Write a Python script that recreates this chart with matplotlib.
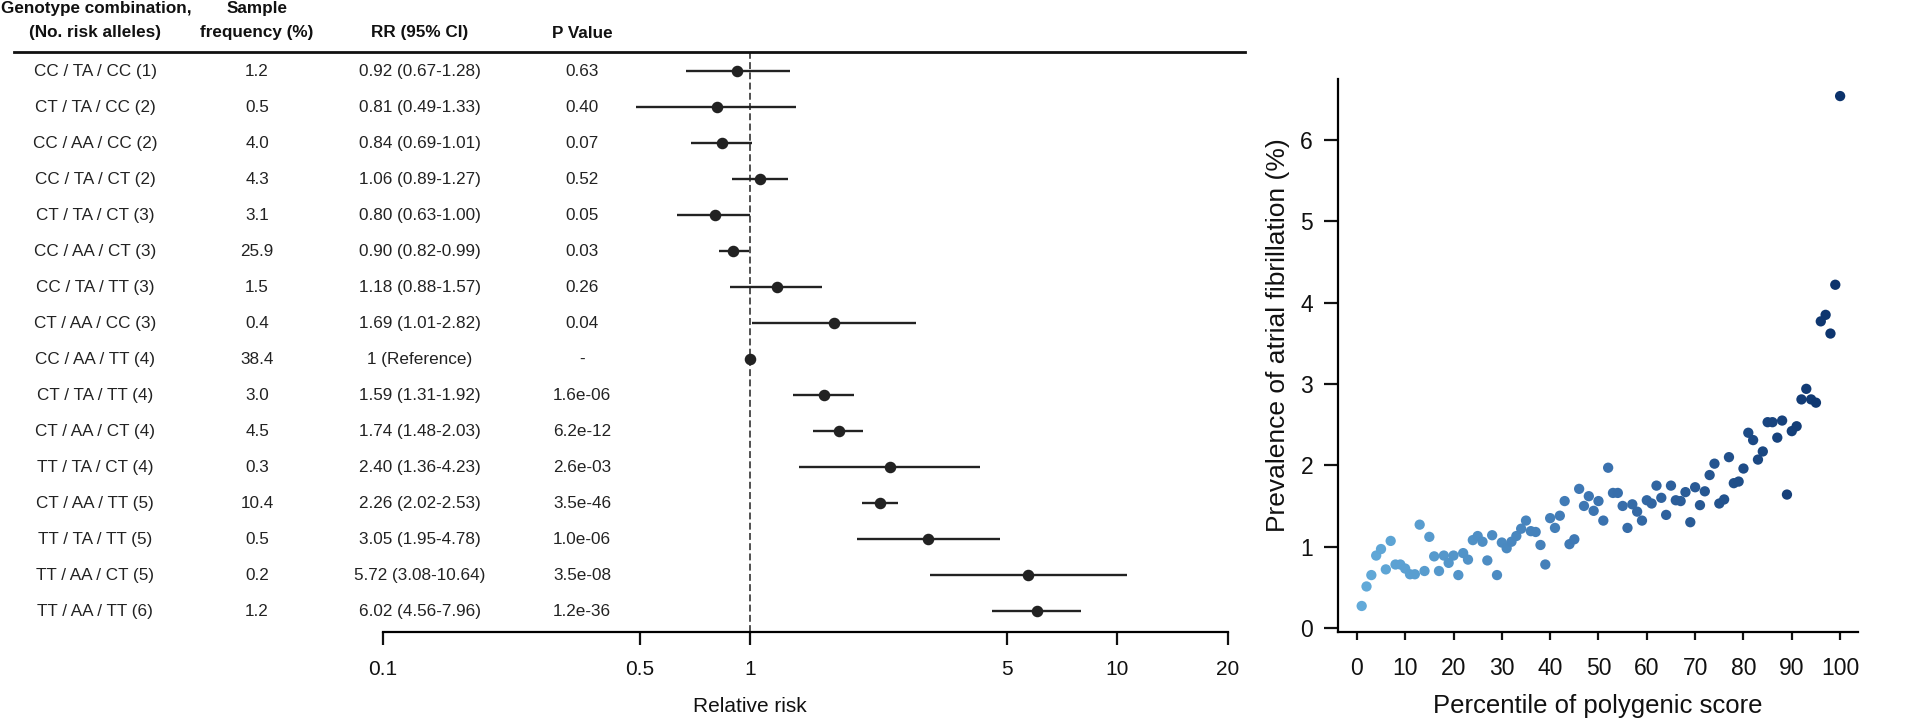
import numpy as np
import matplotlib
matplotlib.use("Agg")
import matplotlib.pyplot as plt
from matplotlib.colors import LinearSegmentedColormap
from matplotlib.transforms import blended_transform_factory

plt.rcParams['font.family'] = ['Liberation Sans', 'DejaVu Sans']

# ─── Data: genotype-combination forest plot ──────────────────────────────────
genotypes = ["CC / TA / CC (1)", "CT / TA / CC (2)", "CC / AA / CC (2)", "CC / TA / CT (2)",
             "CT / TA / CT (3)", "CC / AA / CT (3)", "CC / TA / TT (3)", "CT / AA / CC (3)",
             "CC / AA / TT (4)", "CT / TA / TT (4)", "CT / AA / CT (4)", "TT / TA / CT (4)",
             "CT / AA / TT (5)", "TT / TA / TT (5)", "TT / AA / CT (5)", "TT / AA / TT (6)"]
freq = ["1.2", "0.5", "4.0", "4.3", "3.1", "25.9", "1.5", "0.4",
        "38.4", "3.0", "4.5", "0.3", "10.4", "0.5", "0.2", "1.2"]
rr = [0.92, 0.81, 0.84, 1.06, 0.80, 0.90, 1.18, 1.69, 1.0, 1.59, 1.74, 2.40, 2.26, 3.05, 5.72, 6.02]
rr_lo = [0.67, 0.49, 0.69, 0.89, 0.63, 0.82, 0.88, 1.01, np.nan, 1.31, 1.48, 1.36, 2.02, 1.95, 3.08, 4.56]
rr_hi = [1.28, 1.33, 1.01, 1.27, 1.00, 0.99, 1.57, 2.82, np.nan, 1.92, 2.03, 4.23, 2.53, 4.78, 10.64, 7.96]
pvals = ["0.63", "0.40", "0.07", "0.52", "0.05", "0.03", "0.26", "0.04",
         "-", "1.6e-06", "6.2e-12", "2.6e-03", "3.5e-46", "1.0e-06", "3.5e-08", "1.2e-36"]
rr_ticks = [0.1, 0.5, 1, 5, 10, 20]
rr_ticklabels = ["0.1", "0.5", "1", "5", "10", "20"]

# ─── Data: prevalence by percentile of polygenic score ───────────────────────
percentile = np.arange(1, 101)
prevalence = [0.27, 0.51, 0.65, 0.89, 0.97, 0.72, 1.07, 0.78, 0.78, 0.73,
              0.66, 0.66, 1.27, 0.70, 1.12, 0.88, 0.70, 0.89, 0.80, 0.89,
              0.65, 0.92, 0.84, 1.08, 1.13, 1.06, 0.83, 1.14, 0.65, 1.05,
              0.98, 1.06, 1.13, 1.22, 1.32, 1.19, 1.18, 1.02, 0.78, 1.35,
              1.23, 1.38, 1.56, 1.03, 1.09, 1.71, 1.50, 1.62, 1.44, 1.56,
              1.32, 1.97, 1.66, 1.66, 1.50, 1.23, 1.52, 1.43, 1.32, 1.57,
              1.53, 1.75, 1.60, 1.39, 1.75, 1.57, 1.56, 1.67, 1.30, 1.73,
              1.51, 1.68, 1.88, 2.02, 1.53, 1.58, 2.10, 1.78, 1.80, 1.96,
              2.40, 2.31, 2.07, 2.17, 2.53, 2.53, 2.34, 2.55, 1.64, 2.42,
              2.48, 2.81, 2.94, 2.81, 2.77, 3.77, 3.85, 3.62, 4.22, 6.54]

W, H = 1920, 721
fig = plt.figure(figsize=(W / 100, H / 100), dpi=100)

def fx(px):   # figure fraction from pixel x
    return px / W

def fy(py):   # figure fraction from pixel y (top origin)
    return 1 - py / H

# ─── Forest plot ─────────────────────────────────────────────────────────────
ax = fig.add_axes([fx(383), fy(632), fx(1228) - fx(383), fy(52) - fy(632)])
n = len(genotypes)
rows = np.arange(n)
ax.set_xscale("log")
ax.set_xlim(0.1, 20)
ax.set_ylim(15.58, -0.53)

ink = "#222222"
ax.hlines(rows, rr_lo, rr_hi, color=ink, lw=1.7)
ax.plot(rr, rows, "o", color=ink, ms=7.3, zorder=3)
ax.axvline(1, color=ink, lw=1.1, ls=(0, (4.5, 2.2)), zorder=1)

for s in ["top", "left", "right"]:
    ax.spines[s].set_visible(False)
ax.spines["bottom"].set_linewidth(1.6)
ax.set_yticks([])
ax.set_xticks(rr_ticks)
ax.set_xticklabels(rr_ticklabels)
ax.xaxis.set_minor_locator(matplotlib.ticker.NullLocator())
ax.tick_params(axis="x", length=9, width=1.6, pad=11, labelsize=15, colors="#111111")
ax.text(1, fy(707), "Relative risk", transform=blended_transform_factory(ax.transData, fig.transFigure),
        ha="center", va="center", fontsize=15, color="#111111")

tr = blended_transform_factory(fig.transFigure, ax.transData)
rr_text = [f"{r:.2f} ({l:.2f}-{h:.2f})" if not np.isnan(l) else "1 (Reference)"
           for r, l, h in zip(rr, rr_lo, rr_hi)]
for i in range(n):
    ax.text(fx(95), i, genotypes[i], transform=tr, ha="center", va="center", fontsize=12.3, color=ink)
    ax.text(fx(257), i, freq[i], transform=tr, ha="center", va="center", fontsize=12.3, color=ink)
    ax.text(fx(420), i, rr_text[i], transform=tr, ha="center", va="center", fontsize=12.3, color=ink)
    ax.text(fx(582), i, pvals[i], transform=tr, ha="center", va="center", fontsize=12.3, color=ink)

hdr = dict(transform=fig.transFigure, ha="center", va="center", fontsize=12.3, fontweight="bold", color="#111111")
fig.text(fx(96), fy(8), "Genotype combination,", **hdr)
fig.text(fx(95), fy(33), "(No. risk alleles)", **hdr)
fig.text(fx(257), fy(8), "Sample", **hdr)
fig.text(fx(257), fy(33), "frequency (%)", **hdr)
fig.text(fx(420), fy(33), "RR (95% CI)", **hdr)
fig.text(fx(582), fy(33), "P Value", **hdr)
fig.add_artist(plt.Line2D([fx(14), fx(1245)], [fy(52), fy(52)], color="#111111", lw=2.0))

# ─── Scatter of prevalence vs. percentile ────────────────────────────────────
ax2 = fig.add_axes([fx(1338), fy(632), fx(1858) - fx(1338), fy(79) - fy(632)])
cmap = LinearSegmentedColormap.from_list("pgs", ["#62aad9", "#3b73b0", "#0b326b"])
ax2.scatter(percentile, prevalence, c=percentile, cmap=cmap, vmin=1, vmax=100, s=55,
            edgecolors="none", zorder=3)
ax2.set_xlim(-3.9, 103.7)
ax2.set_ylim(-0.05, 6.75)
ax2.set_xticks(np.arange(0, 101, 10))
ax2.set_yticks(np.arange(0, 7, 1))
for s in ["top", "right"]:
    ax2.spines[s].set_visible(False)
for s in ["left", "bottom"]:
    ax2.spines[s].set_linewidth(1.6)
ax2.tick_params(axis="y", length=10, width=1.6, pad=8, labelsize=16.5, colors="#111111")
ax2.tick_params(axis="x", length=6, width=1.6, pad=12, labelsize=16.5, colors="#111111")
ax2.set_xlabel("Percentile of polygenic score", fontsize=18.5, color="#111111", labelpad=10)
ax2.set_ylabel("Prevalence of atrial fibrillation (%)", fontsize=19, color="#111111")
ax2.yaxis.set_label_coords(-0.092, 0.537)

fig.savefig("out.png", dpi=100)
